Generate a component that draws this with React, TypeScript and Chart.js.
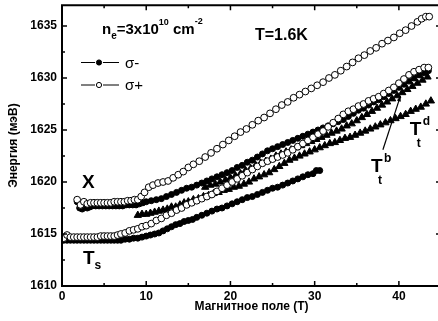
import React, { useEffect, useRef } from 'react';
import { Chart, registerables } from 'chart.js';
Chart.register(...registerables);

// ---- axes ----
const X_MIN = 0;
const X_MAX = 45;
const Y_MIN = 1610;
const Y_MAX = 1637;
const X_TICKS = [0, 10, 20, 30, 40];
const Y_TICKS = [1610, 1615, 1620, 1625, 1630, 1635];
const X_MINOR = [5, 15, 25, 35, 45];
const Y_MINOR = [1612.5, 1617.5, 1622.5, 1627.5, 1632.5];
const X_TITLE = 'Магнитное поле (T)';
const Y_TITLE = 'Энергия (мэВ)';

// ---- X exciton, sigma+ (open circles) ----
const XP_B = [1.8, 2.2, 2.6, 3.0, 3.4, 3.8, 4.2, 4.6, 5.0, 5.4, 5.8, 6.2, 6.6, 7.0, 7.4, 7.8, 8.2, 8.6, 9.0, 9.4, 9.8,
  10.3, 10.8, 11.4, 12.0, 12.6, 13.2, 13.8, 14.4, 15.0, 15.6, 16.3, 17.0, 17.7, 18.4, 19.1, 19.8, 20.5, 21.2, 21.9,
  22.6, 23.3, 24.0, 24.7, 25.4, 26.1, 26.8, 27.5, 28.2, 28.9, 29.6, 30.3, 31.0, 31.7, 32.4, 33.1, 33.8, 34.5, 35.2,
  35.9, 36.6, 37.3, 38.0, 38.7, 39.4, 40.1, 40.8, 41.5, 42.2, 42.7, 43.2, 43.6];
const XP_E = [1618.3, 1617.8, 1618.1, 1617.9, 1618.0, 1618.0, 1618.0, 1618.0, 1618.0, 1618.0, 1618.0, 1618.1, 1618.1,
  1618.1, 1618.1, 1618.2, 1618.2, 1618.3, 1618.3, 1618.6, 1619.0,
  1619.5, 1619.7, 1619.9, 1620.0, 1620.1, 1620.4, 1620.7, 1621.0, 1621.4, 1621.7, 1622.0, 1622.4, 1622.8, 1623.2,
  1623.6, 1624.0, 1624.4, 1624.8, 1625.1, 1625.5, 1625.9, 1626.2, 1626.6, 1627.0, 1627.4, 1627.7, 1628.1, 1628.4,
  1628.7, 1629.0, 1629.3, 1629.6, 1630.0, 1630.3, 1630.7, 1631.1, 1631.5, 1631.9, 1632.2, 1632.6, 1632.9, 1633.3,
  1633.6, 1633.9, 1634.3, 1634.6, 1635.0, 1635.4, 1635.7, 1635.9, 1635.9];

// ---- X exciton, sigma- (filled circles) ----
const XM_B = [1.8, 2.1, 2.4, 2.7, 3.0, 3.3, 3.6, 4.0, 4.4, 4.8, 5.2, 5.6, 6.0, 6.4, 6.8, 7.2, 7.6, 8.0, 8.4, 8.8, 9.2,
  9.6, 10.0, 10.6, 11.2, 11.8, 12.4, 13.0, 13.6, 14.2, 14.8, 15.4, 16.0, 16.6, 17.2, 17.8, 18.4, 19.0, 19.6, 20.2,
  20.8, 21.4, 22.0, 22.6, 23.2, 23.8, 24.4, 25.0, 25.6, 26.2, 26.8, 27.4, 28.0, 28.6, 29.2, 29.8, 30.4, 31.0, 31.6,
  32.2, 32.8, 33.4, 34.0, 34.6, 35.2, 35.8, 36.4, 37.0, 37.6, 38.2, 38.8, 39.4, 40.0, 40.6, 41.2, 41.8, 42.4, 43.0, 43.5];
const XM_E = [1618.1, 1617.5, 1617.4, 1617.8, 1617.5, 1617.6, 1617.7, 1617.7, 1617.7, 1617.7, 1617.7, 1617.7, 1617.7,
  1617.7, 1617.7, 1617.7, 1617.8, 1617.8, 1617.8, 1617.8, 1617.9,
  1618.0, 1618.1, 1618.2, 1618.3, 1618.4, 1618.6, 1618.8, 1619.0, 1619.2, 1619.4, 1619.5, 1619.7, 1619.9, 1620.1,
  1620.3, 1620.5, 1620.7, 1620.9, 1621.1, 1621.4, 1621.6, 1621.9, 1622.1, 1622.4, 1622.7, 1623.0, 1623.2, 1623.4,
  1623.6, 1623.8, 1624.0, 1624.2, 1624.4, 1624.6, 1624.8, 1625.0, 1625.2, 1625.4, 1625.6, 1625.8, 1626.0, 1626.3,
  1626.6, 1626.9, 1627.1, 1627.4, 1627.7, 1627.9, 1628.2, 1628.5, 1628.8, 1629.1, 1629.4, 1629.7, 1630.0, 1630.3,
  1630.5, 1630.7];

// ---- Ts trion, sigma+ (open circles) ----
const TSP_B = [0.2, 0.6, 1.0, 1.4, 1.8, 2.2, 2.6, 3.0, 3.4, 3.8, 4.2, 4.6, 5.0, 5.4, 5.8, 6.2, 6.6, 7.0, 7.5, 8.0, 8.5,
  9.0, 9.5, 10.0, 10.6, 11.2, 11.8, 12.4, 13.0, 13.6, 14.2, 14.8, 15.4, 16.0, 16.6, 17.2, 17.8, 18.4, 19.0, 19.6,
  20.2, 20.8, 21.4, 22.0, 22.6, 23.2, 23.8, 24.4, 25.0, 25.6, 26.2, 26.8, 27.4, 28.0, 28.6, 29.2, 29.8, 30.4, 31.0,
  31.6, 32.2, 32.8, 33.4, 34.0, 34.6, 35.2, 35.8, 36.4, 37.0, 37.6, 38.2, 38.8, 39.4, 40.0, 40.6, 41.2, 41.8, 42.4,
  43.0, 43.5];
const TSP_E = [1614.6, 1614.9, 1614.7, 1614.7, 1614.7, 1614.7, 1614.7, 1614.7, 1614.7, 1614.7, 1614.7, 1614.8, 1614.8,
  1614.8, 1614.8, 1614.8, 1614.9, 1615.0, 1615.1, 1615.3, 1615.4, 1615.5, 1615.7, 1615.8, 1616.0, 1616.3, 1616.5,
  1616.8, 1617.0, 1617.3, 1617.5, 1617.8, 1618.0, 1618.2, 1618.4, 1618.6, 1618.8, 1619.1, 1619.4, 1619.7, 1620.0,
  1620.3, 1620.6, 1620.9, 1621.2, 1621.5, 1621.8, 1622.0, 1622.2, 1622.4, 1622.6, 1622.8, 1623.1, 1623.4, 1623.7,
  1624.0, 1624.3, 1624.6, 1624.9, 1625.3, 1625.7, 1626.1, 1626.5, 1626.8, 1627.0, 1627.3, 1627.5, 1627.8, 1628.0,
  1628.2, 1628.5, 1628.8, 1629.1, 1629.5, 1629.9, 1630.3, 1630.6, 1630.8, 1631.0, 1631.0];

// ---- Ts trion, sigma- (filled circles) ----
const TSM_B = [0.2, 0.6, 1.0, 1.4, 1.8, 2.2, 2.6, 3.0, 3.4, 3.8, 4.2, 4.6, 5.0, 5.4, 5.8, 6.2, 6.6, 7.0, 7.5, 8.0, 8.5,
  9.0, 9.5, 10.0, 10.5, 11.0, 11.5, 12.0, 12.5, 13.0, 13.5, 14.0, 14.5, 15.0, 15.5, 16.0, 16.6, 17.2, 17.8, 18.4,
  19.0, 19.6, 20.2, 20.8, 21.4, 22.0, 22.6, 23.2, 23.8, 24.4, 25.0, 25.6, 26.2, 26.8, 27.4, 28.0, 28.6, 29.2, 29.8,
  30.2, 30.6];
const TSM_E = [1614.4, 1614.4, 1614.4, 1614.4, 1614.4, 1614.4, 1614.4, 1614.4, 1614.4, 1614.4, 1614.4, 1614.4, 1614.4,
  1614.4, 1614.4, 1614.4, 1614.4, 1614.4, 1614.5, 1614.5, 1614.6, 1614.6, 1614.7, 1614.8, 1614.9, 1615.0, 1615.1,
  1615.3, 1615.5, 1615.7, 1615.9, 1616.0, 1616.2, 1616.3, 1616.4, 1616.6, 1616.8, 1617.0, 1617.2, 1617.4, 1617.5,
  1617.7, 1617.9, 1618.1, 1618.3, 1618.5, 1618.6, 1618.8, 1619.0, 1619.2, 1619.4, 1619.5, 1619.7, 1619.9, 1620.1,
  1620.3, 1620.5, 1620.7, 1620.8, 1621.1, 1621.1];

// ---- Tt dark (triangles, lower) ----
const TTD_B = [9.0, 9.5, 10.0, 10.5, 11.0, 11.5, 12.0, 12.5, 13.0, 13.5, 14.0, 14.5, 15.0, 15.6, 16.2, 16.8, 17.4,
  18.0, 18.6, 19.2, 19.8, 20.4, 21.0, 21.6, 22.2, 22.8, 23.4, 24.0, 24.6, 25.2, 25.8, 26.4, 27.0, 27.6, 28.2, 28.8,
  29.4, 30.0, 30.6, 31.2, 31.8, 32.4, 33.0, 33.6, 34.2, 34.8, 35.4, 36.0, 36.6, 37.2, 37.8, 38.4, 39.0, 39.6, 40.2,
  40.8, 41.4, 42.0, 42.6, 43.2, 43.8];
const TTD_E = [1616.8, 1616.9, 1616.9, 1617.0, 1617.1, 1617.2, 1617.3, 1617.4, 1617.6, 1617.6, 1617.8, 1618.0, 1618.1,
  1618.3, 1618.4, 1618.6, 1618.7, 1618.9, 1619.0, 1619.2, 1619.3, 1619.5, 1619.6, 1619.8, 1620.0, 1620.3, 1620.5,
  1620.7, 1620.9, 1621.2, 1621.5, 1621.8, 1622.1, 1622.3, 1622.5, 1622.7, 1622.9, 1623.1, 1623.3, 1623.5, 1623.7,
  1623.8, 1624.0, 1624.2, 1624.3, 1624.5, 1624.7, 1624.9, 1625.1, 1625.3, 1625.5, 1625.7, 1625.9, 1626.1, 1626.3,
  1626.5, 1626.8, 1627.0, 1627.2, 1627.5, 1627.8];

// ---- Tt bright (triangles, upper) ----
const TTB_B = [17.0, 17.6, 18.2, 18.8, 19.4, 20.0, 20.6, 21.2, 21.8, 22.4, 23.0, 23.6, 24.2, 24.8, 25.4, 26.0, 26.6,
  27.2, 27.8, 28.4, 29.0, 29.6, 30.2, 30.8, 31.4, 32.0, 32.6, 33.2, 33.8, 34.4, 35.0, 35.6, 36.2, 36.8, 37.4, 38.0,
  38.6, 39.2, 39.8, 40.4, 41.0, 41.6, 42.2, 42.8, 43.4];
const TTB_E = [1619.5, 1619.7, 1619.8, 1620.0, 1620.2, 1620.4, 1620.6, 1620.8, 1621.1, 1621.3, 1621.6, 1621.8, 1622.0,
  1622.2, 1622.5, 1622.7, 1622.9, 1623.1, 1623.3, 1623.5, 1623.7, 1623.9, 1624.1, 1624.3, 1624.5, 1624.7, 1624.9,
  1625.1, 1625.4, 1625.6, 1625.9, 1626.2, 1626.5, 1626.8, 1627.1, 1627.4, 1627.7, 1628.0, 1628.3, 1628.6, 1628.9,
  1629.2, 1629.5, 1629.8, 1630.1];

const FONT = '"Liberation Sans", Arial, sans-serif';

const pts = (bs: number[], es: number[]) => bs.map((b, i) => ({ x: b, y: es[i] }));

function textSub(ctx: CanvasRenderingContext2D, parts: { t: string; size: number; dy: number }[], x: number, y: number) {
  let cx = x;
  for (const p of parts) {
    ctx.font = `bold ${p.size}px ${FONT}`;
    ctx.fillText(p.t, cx, y + p.dy);
    cx += ctx.measureText(p.t).width;
  }
}

const decor = {
  id: 'decor',
  afterDraw(chart: any) {
    const { ctx, chartArea: a, scales } = chart;
    const x = scales.x;
    const y = scales.y;
    ctx.save();
    ctx.strokeStyle = '#000';
    ctx.fillStyle = '#000';
    // frame
    ctx.lineWidth = 2;
    ctx.beginPath();
    ctx.moveTo(a.left, a.top);
    ctx.lineTo(a.right, a.top);
    ctx.lineTo(a.right, a.bottom);
    ctx.lineTo(a.left, a.bottom);
    ctx.closePath();
    ctx.stroke();
    // inward ticks
    ctx.lineWidth = 1.5;
    const tx = (v: number, len: number) => {
      const px = x.getPixelForValue(v);
      ctx.beginPath();
      ctx.moveTo(px, a.bottom);
      ctx.lineTo(px, a.bottom - len);
      ctx.moveTo(px, a.top);
      ctx.lineTo(px, a.top + len);
      ctx.stroke();
    };
    const ty = (v: number, len: number) => {
      const py = y.getPixelForValue(v);
      ctx.beginPath();
      ctx.moveTo(a.left, py);
      ctx.lineTo(a.left + len, py);
      ctx.moveTo(a.right, py);
      ctx.lineTo(a.right - len, py);
      ctx.stroke();
    };
    X_TICKS.forEach((v) => tx(v, 5));
    X_MINOR.forEach((v) => tx(v, 3));
    Y_TICKS.forEach((v) => ty(v, 5));
    Y_MINOR.forEach((v) => ty(v, 3));

    // legend
    ctx.lineWidth = 1;
    const legendRow = (py: number, filled: boolean, label: string) => {
      ctx.beginPath();
      ctx.moveTo(81, py);
      ctx.lineTo(95, py);
      ctx.moveTo(103, py);
      ctx.lineTo(119, py);
      ctx.stroke();
      ctx.beginPath();
      ctx.arc(99, py, 2.6, 0, Math.PI * 2);
      if (filled) ctx.fill();
      ctx.stroke();
      ctx.font = `15px ${FONT}`;
      ctx.textBaseline = 'middle';
      ctx.textAlign = 'left';
      ctx.fillText(label, 125, py + 1);
    };
    legendRow(62.5, true, 'σ-');
    legendRow(85, false, 'σ+');

    ctx.textBaseline = 'alphabetic';
    ctx.textAlign = 'left';
    // n_e = 3x10^10 cm^-2
    textSub(ctx, [
      { t: 'n', size: 15, dy: 0 },
      { t: 'e', size: 10, dy: 5 },
      { t: '=3x10', size: 15, dy: 0 },
      { t: '10', size: 9, dy: -9 },
      { t: ' cm', size: 15, dy: 0 },
      { t: '-2', size: 9, dy: -10 },
    ], 102, 34);
    textSub(ctx, [{ t: 'T=1.6K', size: 16, dy: 0 }], 255, 40);
    // labels on curves
    textSub(ctx, [{ t: 'X', size: 19, dy: 0 }], 82, 188);
    textSub(ctx, [{ t: 'T', size: 19, dy: 0 }, { t: 's', size: 12, dy: 5 }], 83, 264);
    // Tt^b
    const bx = x.getPixelForValue(36.7);
    const by = y.getPixelForValue(1621.0);
    textSub(ctx, [{ t: 'T', size: 19, dy: 0 }], bx, by);
    textSub(ctx, [{ t: 't', size: 12, dy: 0 }], bx + 7, by + 12);
    textSub(ctx, [{ t: 'b', size: 12, dy: 0 }], bx + 13, by - 10);
    // Tt^d
    const dx = x.getPixelForValue(41.3);
    const dy = y.getPixelForValue(1624.5);
    textSub(ctx, [{ t: 'T', size: 19, dy: 0 }], dx, dy);
    textSub(ctx, [{ t: 't', size: 12, dy: 0 }], dx + 7, dy + 12);
    textSub(ctx, [{ t: 'd', size: 12, dy: 0 }], dx + 13, dy - 10);
    // arrow for Tt^b
    const ax0 = x.getPixelForValue(38.1), ay0 = y.getPixelForValue(1623.1);
    const ax1 = x.getPixelForValue(40.2), ay1 = y.getPixelForValue(1628.3);
    ctx.lineWidth = 1.2;
    ctx.beginPath();
    ctx.moveTo(ax0, ay0);
    ctx.lineTo(ax1, ay1);
    ctx.stroke();
    const ang = Math.atan2(ay1 - ay0, ax1 - ax0);
    ctx.beginPath();
    ctx.moveTo(ax1, ay1);
    ctx.lineTo(ax1 - 6 * Math.cos(ang - 0.35), ay1 - 6 * Math.sin(ang - 0.35));
    ctx.lineTo(ax1 - 6 * Math.cos(ang + 0.35), ay1 - 6 * Math.sin(ang + 0.35));
    ctx.closePath();
    ctx.fill();
    ctx.restore();
  },
};

export default function App() {
  const ref = useRef<HTMLCanvasElement | null>(null);
  useEffect(() => {
    if (!ref.current) return;
    const open = (d: any) => ({ data: d, pointStyle: 'circle', pointRadius: 3.4, borderWidth: 1, borderColor: '#000', backgroundColor: '#fff', showLine: false });
    const filled = (d: any) => ({ data: d, pointStyle: 'circle', pointRadius: 3, borderWidth: 1, borderColor: '#000', backgroundColor: '#000', showLine: false });
    const tri = (d: any) => ({ data: d, pointStyle: 'triangle', pointRadius: 4.2, borderWidth: 1, borderColor: '#000', backgroundColor: '#000', showLine: false });
    const chart = new Chart(ref.current, {
      type: 'scatter',
      data: {
        datasets: [
          open(pts(XP_B, XP_E)),
          open(pts(TSP_B, TSP_E)),
          filled(pts(XM_B, XM_E)),
          tri(pts(TTB_B, TTB_E)),
          tri(pts(TTD_B, TTD_E)),
          filled(pts(TSM_B, TSM_E)),
        ] as any,
      },
      options: {
        responsive: false,
        animation: false,
        devicePixelRatio: 1,
        layout: { padding: { top: 5, right: 9, left: 0, bottom: 0 } },
        plugins: { legend: { display: false }, tooltip: { enabled: false } },
        scales: {
          x: {
            type: 'linear',
            min: X_MIN,
            max: X_MAX,
            afterBuildTicks: (s: any) => { s.ticks = X_TICKS.map((v) => ({ value: v })); },
            afterFit: (s: any) => { s.height = 35; s.paddingLeft = 0; s.paddingRight = 0; },
            ticks: { color: '#000', font: { family: FONT, weight: 'bold', size: 12 }, padding: 3, maxRotation: 0, autoSkip: false, callback: (v: any) => String(v) },
            grid: { display: false, drawTicks: false },
            border: { display: false },
            title: { display: true, text: X_TITLE, color: '#000', font: { family: FONT, weight: 'bold', size: 12 }, padding: { top: 0, bottom: 7 } },
          },
          y: {
            type: 'linear',
            min: Y_MIN,
            max: Y_MAX,
            afterBuildTicks: (s: any) => { s.ticks = Y_TICKS.map((v) => ({ value: v })); },
            afterFit: (s: any) => { s.width = 62; s.paddingTop = 0; s.paddingBottom = 0; },
            ticks: { color: '#000', font: { family: FONT, weight: 'bold', size: 12 }, padding: 5, autoSkip: false, callback: (v: any) => String(v) },
            grid: { display: false, drawTicks: false },
            border: { display: false },
            title: { display: true, text: Y_TITLE, color: '#000', font: { family: FONT, weight: 'bold', size: 12 }, padding: { top: 6, bottom: 0 } },
          },
        },
      } as any,
      plugins: [decor],
    });
    return () => chart.destroy();
  }, []);
  return (
    <div style={{ position: 'fixed', left: 0, top: 0, width: 438, height: 321, overflow: 'hidden', background: '#fff' }}>
      <canvas ref={ref} width={450} height={321} style={{ width: 450, height: 321, display: 'block' }} />
    </div>
  );
}
